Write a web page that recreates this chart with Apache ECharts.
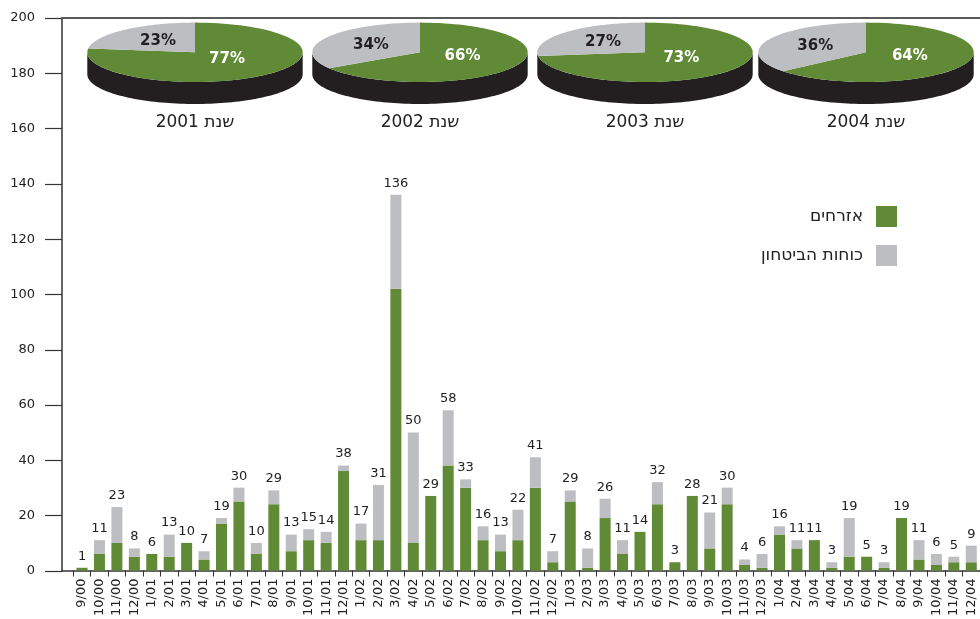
<!DOCTYPE html>
<html>
<head>
<meta charset="utf-8">
<script src="https://cdn.jsdelivr.net/npm/echarts/dist/echarts.min.js"></script>
<style>
html,body{margin:0;padding:0;background:#fff;}
#chart{width:980px;height:619px;}
</style>
</head>
<body>
<div id="chart"></div>
<script>
// ---- data ----
const categories = ['9/00','10/00','11/00','12/00',
  '1/01','2/01','3/01','4/01','5/01','6/01','7/01','8/01','9/01','10/01','11/01','12/01',
  '1/02','2/02','3/02','4/02','5/02','6/02','7/02','8/02','9/02','10/02','11/02','12/02',
  '1/03','2/03','3/03','4/03','5/03','6/03','7/03','8/03','9/03','10/03','11/03','12/03',
  '1/04','2/04','3/04','4/04','5/04','6/04','7/04','8/04','9/04','10/04','11/04','12/04'];
const civilians = [1,6,10,5,
  6,5,10,4,17,25,6,24,7,11,10,36,
  11,11,102,10,27,38,30,11,7,11,30,3,
  25,1,19,6,14,24,3,27,8,24,2,1,
  13,8,11,1,5,5,1,19,4,2,3,3];
const security = [0,5,13,3,
  0,8,0,3,2,5,4,5,6,4,4,2,
  6,20,34,40,0,20,3,5,6,11,11,4,
  4,7,7,5,0,8,0,0,13,6,2,5,
  3,3,0,2,14,0,2,0,7,4,2,6];
const totals = [1,11,23,8,
  6,13,10,7,19,30,10,29,13,15,14,38,
  17,31,136,50,29,58,33,16,13,22,41,7,
  29,8,26,11,14,32,3,28,21,30,4,6,
  16,11,11,3,19,5,3,19,11,6,5,9];
const pieYears = ['2001','2002','2003','2004'];
const pieCivilianPct = [77,66,73,64];
const pieSecurityPct = [23,34,27,36];
const seriesNames = ['אזרחים','כוחות הביטחון'];
const yearPrefix = 'שנת ';

// ---- style / layout ----
const GREEN = '#608a35';
const GREY = '#bdbec2';
const DARK = '#231f20';
const FONT = 'DejaVu Sans';
const pieLayout = {cx:[195,420,645,866], cy:52.3, rx:107.7, ry:29.7, depth:22, labelY:123};

function renderPie(params, api){
  const i = params.dataIndex;
  const f = api.value(1)/100;
  const cx = pieLayout.cx[i], cy = pieLayout.cy, rx = pieLayout.rx, ry = pieLayout.ry, d = pieLayout.depth;
  const pt = (t, dy) => [cx + rx*Math.sin(t), cy + dy - ry*Math.cos(t)];
  const N = 90;
  const side = [];
  for (let k=0;k<=N;k++){ side.push(pt(Math.PI/2 + Math.PI*k/N, 0)); }
  for (let k=N;k>=0;k--){ side.push(pt(Math.PI/2 + Math.PI*k/N, d)); }
  const g = [[cx,cy]];
  const a1 = f*2*Math.PI;
  for (let k=0;k<=N;k++){ g.push(pt(a1*k/N,0)); }
  const s = [[cx,cy]];
  for (let k=0;k<=N;k++){ s.push(pt(a1 + (2*Math.PI-a1)*k/N,0)); }
  const gm = a1/2, sm = (a1+2*Math.PI)/2;
  const gl = [cx + rx*Math.sin(gm)*0.45, cy - ry*Math.cos(gm)*0.3];
  const sl = [cx + rx*Math.sin(sm)*0.52, cy - ry*Math.cos(sm)*0.5];
  return {type:'group', children:[
    {type:'polygon', shape:{points:side}, style:{fill:DARK}},
    {type:'polygon', shape:{points:g}, style:{fill:GREEN}},
    {type:'polygon', shape:{points:s}, style:{fill:GREY}},
    {type:'text', style:{text: api.value(1)+'%', x:gl[0], y:gl[1], fill:'#fff', font:'bold 15px "'+FONT+'"', align:'center', verticalAlign:'middle'}},
    {type:'text', style:{text: api.value(2)+'%', x:sl[0], y:sl[1], fill:DARK, font:'bold 15px "'+FONT+'"', align:'center', verticalAlign:'middle'}},
    {type:'text', style:{text: yearPrefix + pieYears[i], x:cx, y:pieLayout.labelY, fill:'#222', font:'17px "'+FONT+'"', align:'center', verticalAlign:'middle'}}
  ]};
}

const chart = echarts.init(document.getElementById('chart'), null, {renderer:'canvas'});
const option = {
  animation:false,
  backgroundColor:'#fff',
  textStyle:{fontFamily:FONT},
  grid:[
    {left:73.3, right:-2, top:18, bottom:48},
    {left:62, right:0, top:18, bottom:48}
  ],
  xAxis:[
    {type:'category', gridIndex:0, data:categories,
      axisLine:{show:false},
      axisTick:{show:true, length:6, lineStyle:{color:'#333'}},
      axisLabel:{rotate:90, interval:0, margin:8, fontSize:13, color:'#222', fontFamily:FONT}},
    {type:'value', gridIndex:1, min:0, max:1, position:'bottom',
      axisLine:{show:true, onZero:false, lineStyle:{color:'#333', width:1.5}},
      axisTick:{show:false}, axisLabel:{show:false}, splitLine:{show:false}},
    {type:'value', gridIndex:1, min:0, max:1, position:'top',
      axisLine:{show:true, onZero:false, lineStyle:{color:'#5a5a5a', width:2}},
      axisTick:{show:false}, axisLabel:{show:false}, splitLine:{show:false}}
  ],
  yAxis:[
    {type:'value', gridIndex:0, min:0, max:200, show:false},
    {type:'value', gridIndex:1, min:0, max:200, interval:20,
      axisLine:{show:true, onZero:false, lineStyle:{color:'#333', width:1.5}},
      axisTick:{show:true, length:17, lineStyle:{color:'#333', width:1.2}},
      axisLabel:{margin:27, fontSize:13, color:'#222', fontFamily:FONT},
      splitLine:{show:false}}
  ],
  legend:{
    orient:'vertical', right:83, top:206, padding:0,
    itemWidth:21, itemHeight:21, itemGap:18, align:'right', icon:'rect',
    textStyle:{fontSize:17, color:'#222', fontFamily:FONT, padding:[0,8,0,0]},
    data:seriesNames
  },
  series:[
    {name:seriesNames[0], type:'bar', stack:'t', xAxisIndex:0, yAxisIndex:0,
      data:civilians, barWidth:11, itemStyle:{color:GREEN}},
    {name:seriesNames[1], type:'bar', stack:'t', xAxisIndex:0, yAxisIndex:0,
      data:security, barWidth:11, itemStyle:{color:GREY},
      label:{show:true, position:'top', distance:5, fontSize:13, color:'#222', fontFamily:FONT,
        formatter:p => String(totals[p.dataIndex])}},
    {type:'custom', coordinateSystem:'none', silent:true,
      data: pieYears.map((y,i)=>[i, pieCivilianPct[i], pieSecurityPct[i]]),
      renderItem:renderPie}
  ]
};
chart.setOption(option);
</script>
</body>
</html>
